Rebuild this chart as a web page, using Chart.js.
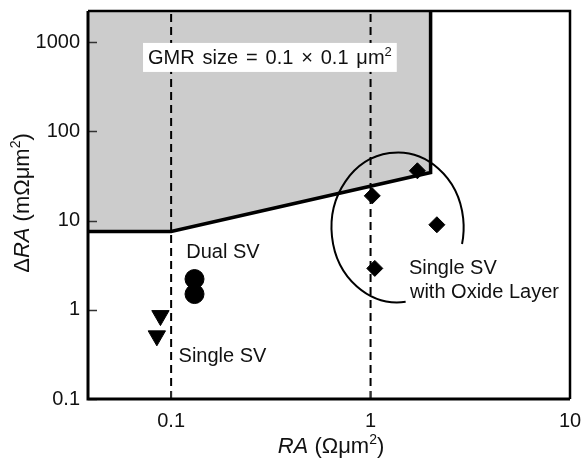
<!DOCTYPE html>
<html>
<head>
<meta charset="utf-8">
<script src="https://cdn.jsdelivr.net/npm/chart.js@4.4.0/dist/chart.umd.min.js"></script>
<style>
  html, body { margin: 0; padding: 0; background: #fff; }
  #wrap { width: 581px; height: 470px; }
</style>
</head>
<body>
<div id="wrap"><canvas id="chart" width="581" height="470"></canvas></div>
<script>
// === Axes ===
const xTicks = [0.1, 1, 10];
const xTickLabels = ['0.1', '1', '10'];
const yTicks = [0.1, 1, 10, 100, 1000];
const yTickLabels = ['0.1', '1', '10', '100', '1000'];
const xRange = [0.0383, 10];
const yRange = [0.1, 2230];

// === Measured devices: RA (Ohm um^2) vs dRA (mOhm um^2) ===
const singleSvRA = [0.0884, 0.0848];
const singleSvDRA = [0.86, 0.51];
const dualSvRA = [0.131, 0.131];
const dualSvDRA = [2.21, 1.50];
const oxideRA = [1.717, 1.02, 2.15, 1.05];
const oxideDRA = [36.1, 18.9, 8.97, 2.91];

// required region for a 0.1 x 0.1 um^2 head (shaded above this line)
const limitRA = [0.0383, 0.1, 2, 2];
const limitDRA = [7.55, 7.55, 34.5, 2230];

// vertical guides
const guideRA = [0.1, 1];

// ellipse round the oxide layer points, as data bounds
const ellipseRA = [0.637, 2.93];
const ellipseDRA = [1.21, 57.8];

// text notes, anchored at (RA, dRA) = left edge / baseline
const noteTexts = ['Dual SV', 'Single SV', 'Single SV', 'with Oxide Layer'];
const noteRA = [0.119, 0.109, 1.557, 1.576];
const noteDRA = [3.83, 0.258, 2.52, 1.357];
const boxNoteRA = 0.0766;
const boxNoteDRA = 569;

const FONT = "'Liberation Sans', Arial, Helvetica, sans-serif";
const FS = 20;
const INK = '#111';

const pts = (xs, ys) => xs.map((x, i) => ({ x, y: ys[i] }));

// === Rich text: parts = [[text, flags]], flags: 'i' italic, 's' superscript ===
// opts: size, gap (extra px after each space)
function richFont(flags, size) {
  const s = flags.includes('s') ? Math.round(size * 0.65) : size;
  return `${flags.includes('i') ? 'italic ' : ''}${s}px ${FONT}`;
}

function richRun(ctx, parts, x, y, opts, draw) {
  const { size = FS, gap = 0 } = opts || {};
  ctx.textBaseline = 'alphabetic';
  ctx.textAlign = 'left';
  const x0 = x;
  for (const [t, f] of parts) {
    ctx.font = richFont(f, size);
    const dy = f.includes('s') ? -size * 0.4 : 0;
    // split on spaces so extra word gap can be added
    t.split(/( )/).forEach(chunk => {
      if (!chunk) return;
      if (draw) ctx.fillText(chunk, x, y + dy);
      x += ctx.measureText(chunk).width + (chunk === ' ' ? gap : 0);
    });
  }
  return x - x0;
}

const richWidth = (ctx, parts, opts) => richRun(ctx, parts, 0, 0, opts, false);
const drawRich = (ctx, parts, x, y, opts) => richRun(ctx, parts, x, y, opts, true);

const boxNote = [['GMR size = 0.1 \u00d7 0.1 \u03bcm', ''], ['2', 's']];
const xTitle = [['RA', 'i'], [' (\u03a9\u03bcm', ''], ['2', 's'], [')', '']];
const yTitle = [['\u0394', ''], ['RA', 'i'], [' (m\u03a9\u03bcm', ''], ['2', 's'], [')', '']];
const boxOpts = { size: FS, gap: 2.3 };
const titleOpts = { size: 22 };

// === Decorations: frame, inward ticks, titles, notes, ellipse ===
const decor = {
  id: 'decor',
  afterDatasetsDraw(chart) {
    const { ctx, chartArea: a, scales: { x, y } } = chart;
    ctx.save();

    // ellipse, open at lower right for the label
    const ex0 = x.getPixelForValue(ellipseRA[0]);
    const ex1 = x.getPixelForValue(ellipseRA[1]);
    const ey0 = y.getPixelForValue(ellipseDRA[1]);
    const ey1 = y.getPixelForValue(ellipseDRA[0]);
    ctx.beginPath();
    ctx.ellipse((ex0 + ex1) / 2, (ey0 + ey1) / 2, (ex1 - ex0) / 2, (ey1 - ey0) / 2, 0,
      83 * Math.PI / 180, (360 + 12.8) * Math.PI / 180);
    ctx.lineWidth = 2;
    ctx.strokeStyle = '#000';
    ctx.stroke();

    // boxed note
    const bx = x.getPixelForValue(boxNoteRA);
    const by = y.getPixelForValue(boxNoteDRA);
    const bw = richWidth(ctx, boxNote, boxOpts);
    ctx.fillStyle = '#fff';
    ctx.fillRect(bx - 5, by - 21, bw + 10, 29);
    ctx.fillStyle = INK;
    drawRich(ctx, boxNote, bx, by, boxOpts);

    // plain notes
    ctx.font = `${FS}px ${FONT}`;
    noteTexts.forEach((t, i) => {
      ctx.fillText(t, x.getPixelForValue(noteRA[i]), y.getPixelForValue(noteDRA[i]));
    });

    // inward ticks
    ctx.strokeStyle = '#333';
    ctx.lineWidth = 1.5;
    ctx.beginPath();
    yTicks.forEach(v => {
      const py = Math.round(y.getPixelForValue(v)) + 0.5;
      ctx.moveTo(a.left, py);
      ctx.lineTo(a.left + 9, py);
    });
    xTicks.forEach(v => {
      const px = x.getPixelForValue(v);
      ctx.moveTo(px, a.bottom);
      ctx.lineTo(px, a.bottom - 8);
    });
    ctx.stroke();

    // frame
    ctx.strokeStyle = '#000';
    ctx.lineWidth = 3;
    ctx.beginPath();
    ctx.moveTo(a.left, a.top);
    ctx.lineTo(a.left, a.bottom);
    ctx.lineTo(a.right, a.bottom);
    ctx.stroke();
    ctx.lineWidth = 2.5;
    ctx.beginPath();
    ctx.moveTo(a.left, a.top);
    ctx.lineTo(a.right, a.top);
    ctx.lineTo(a.right, a.bottom);
    ctx.stroke();

    // axis titles
    ctx.fillStyle = INK;
    const xw = richWidth(ctx, xTitle, titleOpts);
    drawRich(ctx, xTitle, 331 - xw / 2, 453, titleOpts);

    const yw = richWidth(ctx, yTitle, titleOpts);
    ctx.translate(29, 203);
    ctx.rotate(-Math.PI / 2);
    drawRich(ctx, yTitle, -yw / 2, 0, titleOpts);

    ctx.restore();
  }
};

// keep label overflow from shrinking the plot area
function fixBox(size) {
  return s => {
    if (s.isHorizontal()) s.height = size; else s.width = size;
    s.paddingLeft = s.paddingRight = s.paddingTop = s.paddingBottom = 0;
  };
}

// === Chart ===
const tickFont = { family: FONT, size: FS };

new Chart(document.getElementById('chart'), {
  type: 'scatter',
  data: {
    datasets: [{
      label: 'Single SV',
      data: pts(singleSvRA, singleSvDRA),
      pointStyle: 'triangle',
      rotation: 180,
      radius: 10,
      backgroundColor: '#000',
      borderColor: '#000',
      borderWidth: 1,
      order: 0
    }, {
      label: 'Dual SV',
      data: pts(dualSvRA, dualSvDRA),
      pointStyle: 'circle',
      radius: 9.5,
      backgroundColor: '#000',
      borderColor: '#000',
      borderWidth: 1,
      order: 0
    }, {
      label: 'Single SV with Oxide Layer',
      data: pts(oxideRA, oxideDRA),
      pointStyle: 'rectRot',
      radius: 8,
      backgroundColor: '#000',
      borderColor: '#000',
      borderWidth: 1,
      order: 0
    }, ...guideRA.map(g => ({
      label: `RA = ${g}`,
      data: pts([g, g], yRange),
      showLine: true,
      borderColor: '#000',
      borderWidth: 2,
      borderDash: [8, 5],
      pointRadius: 0,
      order: 2
    })), {
      label: 'GMR limit',
      data: pts(limitRA, limitDRA),
      showLine: true,
      fill: 'end',
      backgroundColor: '#cccccc',
      borderColor: '#000',
      borderWidth: 3.5,
      borderJoinStyle: 'miter',
      pointRadius: 0,
      tension: 0,
      order: 3
    }]
  },
  options: {
    responsive: false,
    animation: false,
    events: [],
    layout: { padding: { top: 10, right: 11, left: 0, bottom: 0 } },
    plugins: {
      legend: { display: false },
      tooltip: { enabled: false }
    },
    scales: {
      x: {
        type: 'logarithmic',
        min: xRange[0],
        max: xRange[1],
        afterBuildTicks: s => { s.ticks = xTicks.map(v => ({ value: v })); },
        afterFit: fixBox(71),
        ticks: {
          callback: (v, i) => xTickLabels[i],
          font: tickFont,
          color: INK,
          padding: 10,
          maxRotation: 0,
          autoSkip: false
        },
        grid: { display: false, drawTicks: false },
        border: { display: false }
      },
      y: {
        type: 'logarithmic',
        min: yRange[0],
        max: yRange[1],
        afterBuildTicks: s => { s.ticks = yTicks.map(v => ({ value: v })); },
        afterFit: fixBox(88),
        ticks: {
          callback: (v, i) => yTickLabels[i],
          font: tickFont,
          color: INK,
          padding: 8,
          autoSkip: false
        },
        grid: { display: false, drawTicks: false },
        border: { display: false }
      }
    }
  },
  plugins: [decor]
});
</script>
</body>
</html>
